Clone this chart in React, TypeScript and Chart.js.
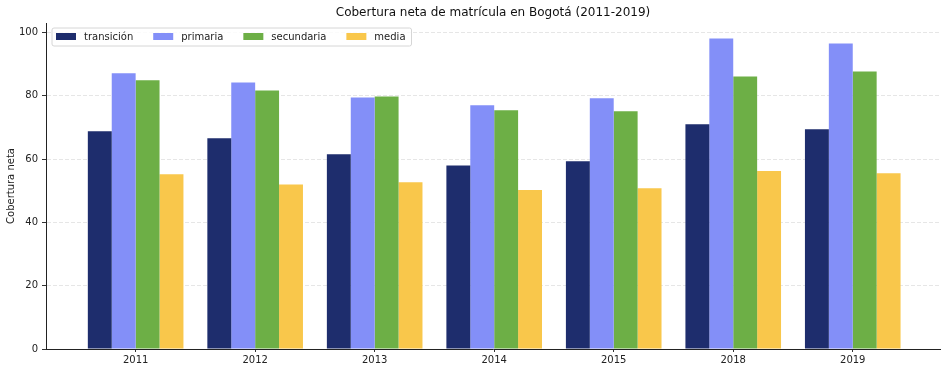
import React, { useEffect, useRef } from "react";
import { Chart, registerables } from "chart.js";

Chart.register(...registerables);

const years = ["2011", "2012", "2013", "2014", "2015", "2018", "2019"];
const transicion = [68.8, 66.6, 61.5, 58.0, 59.3, 71.0, 69.4];
const primaria = [87.1, 84.2, 79.5, 77.0, 79.2, 98.1, 96.5];
const secundaria = [84.9, 81.7, 79.8, 75.4, 75.1, 86.1, 87.7];
const media = [55.2, 52.0, 52.7, 50.2, 50.8, 56.2, 55.5];
const yTicks = [0, 20, 40, 60, 80, 100];

const titleText = "Cobertura neta de matrícula en Bogotá (2011-2019)";
const seriesNames = ["transición", "primaria", "secundaria", "media"];
const seriesColors = ["#1e2d6d", "#838ff8", "#6daf46", "#f9c74b"];

const FONT = "'DejaVu Sans', sans-serif";

const titlePlugin = {
  id: "areaTitle",
  afterDraw(chart: any) {
    const ctx = chart.ctx;
    const area = chart.chartArea;
    ctx.save();
    ctx.font = `12px ${FONT}`;
    ctx.fillStyle = "#111";
    ctx.textAlign = "center";
    ctx.textBaseline = "middle";
    ctx.fillText(titleText, (area.left + area.right) / 2, 13);
    ctx.restore();
  },
};

const legendPlugin = {
  id: "insideLegend",
  afterDraw(chart: any) {
    const ctx = chart.ctx;
    const area = chart.chartArea;
    ctx.save();
    ctx.font = `10px ${FONT}`;
    const x0 = area.left + 6;
    const y0 = area.top + 5;
    const h = 18;
    const patchW = 20;
    const patchH = 7;
    const gapText = 8;
    const colGap = 20;
    const padL = 4;
    const padR = 6;
    let w = padL;
    const items = chart.data.datasets.map((ds: any, i: number) => {
      const tw = ctx.measureText(ds.label).width;
      const item = { x: x0 + w, label: ds.label, color: ds.backgroundColor, tw };
      w += patchW + gapText + tw + (i < chart.data.datasets.length - 1 ? colGap : 0);
      return item;
    });
    w += padR;
    const r = 2;
    ctx.beginPath();
    ctx.moveTo(x0 + r, y0);
    ctx.lineTo(x0 + w - r, y0);
    ctx.quadraticCurveTo(x0 + w, y0, x0 + w, y0 + r);
    ctx.lineTo(x0 + w, y0 + h - r);
    ctx.quadraticCurveTo(x0 + w, y0 + h, x0 + w - r, y0 + h);
    ctx.lineTo(x0 + r, y0 + h);
    ctx.quadraticCurveTo(x0, y0 + h, x0, y0 + h - r);
    ctx.lineTo(x0, y0 + r);
    ctx.quadraticCurveTo(x0, y0, x0 + r, y0);
    ctx.closePath();
    ctx.fillStyle = "rgba(255,255,255,0.85)";
    ctx.fill();
    ctx.strokeStyle = "#d6d6d6";
    ctx.lineWidth = 1;
    ctx.stroke();
    const cy = y0 + h / 2;
    items.forEach((it: any) => {
      ctx.fillStyle = it.color;
      ctx.fillRect(it.x, cy - patchH / 2 - 0.5, patchW, patchH);
      ctx.fillStyle = "#222";
      ctx.textBaseline = "middle";
      ctx.textAlign = "left";
      ctx.fillText(it.label, it.x + patchW + gapText, cy);
    });
    ctx.restore();
  },
};

export default function App() {
  const ref = useRef<HTMLCanvasElement | null>(null);
  useEffect(() => {
    document.body.style.margin = "0";
    const values = [transicion, primaria, secundaria, media];
    const chart = new Chart(ref.current as HTMLCanvasElement, {
      type: "bar",
      data: {
        datasets: values.map((arr, i) => ({
          label: seriesNames[i],
          data: arr.map((v, j) => ({ x: j, y: v })),
          backgroundColor: seriesColors[i],
          borderWidth: 0,
          categoryPercentage: 0.8,
          barPercentage: 1.0,
        })),
      },
      options: {
        animation: false,
        responsive: false,
        maintainAspectRatio: false,
        devicePixelRatio: 1,
        layout: { padding: { left: 0, right: 7, top: 23, bottom: 0 } },
        plugins: {
          legend: { display: false },
          tooltip: { enabled: false },
          title: { display: false },
        },
        scales: {
          x: {
            type: "linear",
            min: -0.75,
            max: 6.73,
            offset: false,
            afterBuildTicks: (scale: any) => {
              scale.ticks = years.map((_, i) => ({ value: i }));
            },
            afterFit: (scale: any) => {
              scale.height = 24;
            },
            ticks: {
              autoSkip: false,
              maxRotation: 0,
              padding: 2,
              color: "#222",
              font: { family: FONT, size: 10 },
              callback: (v: any) => years[v] ?? "",
            },
            grid: {
              display: true,
              offset: false,
              drawOnChartArea: false,
              drawTicks: true,
              tickLength: 3,
              tickColor: "#333",
              tickWidth: 1,
            },
            border: { display: true, color: "#222", width: 1 },
          },
          y: {
            type: "linear",
            min: 0,
            max: 103,
            afterBuildTicks: (scale: any) => {
              scale.ticks = yTicks.map((v) => ({ value: v }));
            },
            afterFit: (scale: any) => {
              scale.width = 46;
            },
            ticks: {
              padding: 4,
              color: "#222",
              font: { family: FONT, size: 10 },
            },
            title: {
              display: true,
              text: "Cobertura neta",
              color: "#222",
              font: { family: FONT, size: 10 },
              padding: { top: 5, bottom: 0 },
            },
            grid: {
              display: true,
              color: "rgba(200,200,200,0.45)",
              lineWidth: 1,
              drawTicks: true,
              tickLength: 4,
              tickColor: "#333",
              tickBorderDash: [],
            },
            border: { display: true, color: "#222", width: 1, dash: [4, 2] },
          },
        },
      },
      plugins: [titlePlugin, legendPlugin],
    } as any);
    return () => chart.destroy();
  }, []);
  return (
    <div style={{ position: "absolute", left: 0, top: 0, width: 947, height: 373 }}>
      <canvas ref={ref} width={947} height={373} style={{ width: 947, height: 373 }} />
    </div>
  );
}
